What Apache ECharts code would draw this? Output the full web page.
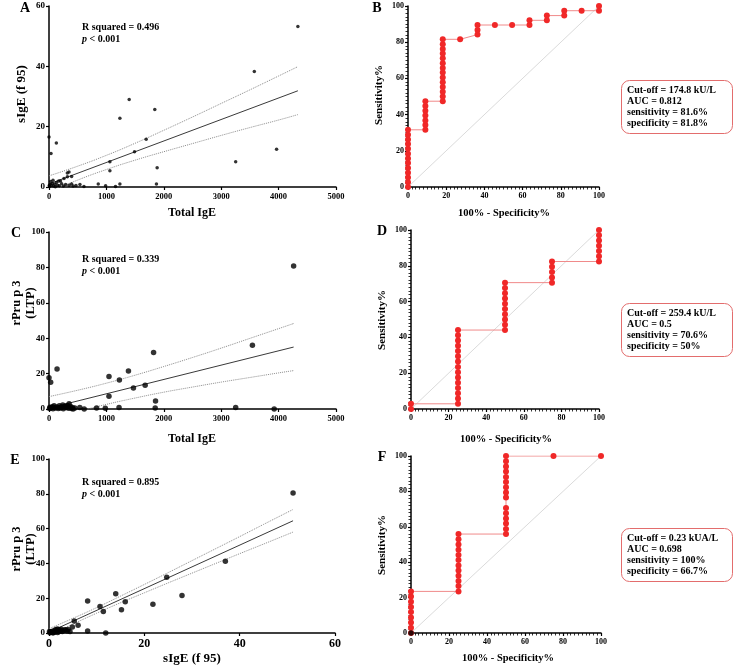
<!DOCTYPE html>
<html><head><meta charset="utf-8">
<script src="https://cdn.jsdelivr.net/npm/echarts@6/dist/echarts.min.js"></script>
<style>html,body{margin:0;padding:0;background:#fff}#c{width:734px;height:670px}</style>
</head><body><div id="c"></div>
<script>
// ---------- Panel A: Total IgE vs sIgE (f 95) ----------
const scatterA_x = [4336,3577,1397,1843,1235,1693,1490,3965,3252,1061,1061,1884,1872,0,128,35,348,319,394,320,261,200,170,539,609,858,986,1159,1235,394,350,10,20,40,60,80,100,130,150,180,220,250,290,420,470,30,70,110,5];
const scatterA_y = [53.2,38.3,29.0,25.7,22.8,15.8,11.7,12.5,8.4,8.4,5.4,6.4,1.0,16.6,14.6,11.1,5.0,4.6,3.5,3.4,2.8,2.0,2.0,0.8,0.2,1.0,0.4,0.2,1.0,1.0,0.6,0.2,0.8,0.5,1.2,0.3,0.9,1.5,0.6,0.4,1.1,0.3,0.8,0.3,0.5,1.8,2.2,0.1,0.5];
const fitA_x = [0,4336];
const fitA_y = [1.0,31.9];
const bandA_x = [0,500,1000,1500,2000,2500,3000,3500,4000,4336];
const bandA_up = [3.7,6.9,10.5,14.5,18.8,23.2,27.7,32.2,36.8,39.9];
const bandA_lo = [-1.7,2.3,5.8,8.9,11.7,14.4,17.1,19.7,22.2,24.0];

// ---------- Panel C: Total IgE vs rPru p 3 ----------
const scatterC_x = [4262,3544,1822,140,0,29,1045,1384,1226,1675,1471,1045,1856,1850,1220,3252,3923,829,981,537,613,350,370,274,187,88,29,408,420,10,50,70,110,130,160,200,230,250,300,320,340,390,450,60,15,240,300,180];
const scatterC_y = [80.8,36.0,31.9,22.6,17.7,15.1,18.3,21.5,16.4,13.4,11.9,7.2,4.5,0.6,0.9,0.9,0,0.6,0.4,0.9,0,3.0,1.5,1.5,0.9,1.9,0.6,0.9,0,0.3,0.8,0.2,0.5,1.2,0.3,0.6,1.0,0.2,0.8,2.0,0.4,0.3,0.5,1.3,1.0,2.2,1.3,1.8];
const fitC_x = [0,4262];
const fitC_y = [0.5,35.0];
const bandC_x = [0,500,1000,1500,2000,2500,3000,3500,4000,4262];
const bandC_up = [7.0,10.6,14.6,19.1,24.0,29.1,34.4,39.9,45.4,48.3];
const bandC_lo = [-6.0,-1.5,2.6,6.2,9.5,12.4,15.2,17.8,20.4,21.7];

// ---------- Panel E: sIgE (f 95) vs rPru p 3 ----------
const scatterE_x = [51.2,37.0,27.9,24.7,21.8,14.0,16.0,15.2,11.4,10.7,8.1,8.1,11.9,5.3,6.1,4.9,4.4,3.2,2.5,1.8,1.5,1.2,0.8,0.4,1.8,2.2,2.8,3.5,0.2,1.0,0.6,1.4,2.0,0.3,1.6,2.6,0.9,0.1,4.0,3.8];
const scatterE_y = [80.4,41.3,21.5,32.1,16.5,22.6,17.9,13.4,12.3,15.2,18.4,1.2,0,6.9,4.4,3.5,0.8,1.7,1.2,2.3,1.0,0.5,0.2,0.6,0.3,1.8,0.9,1.9,0.1,1.3,0.9,2.0,0.7,0.4,1.6,2.2,0.2,0.8,2.0,1.1];
const fitE_x = [0,51.2];
const fitE_y = [0.5,64.5];
const bandE_x = [0,5,10,15,20,25,30,35,40,45,51.2];
const bandE_up = [2.5,8.4,14.6,21.2,27.9,34.7,41.6,48.5,55.4,62.4,71.0];
const bandE_lo = [-1.5,5.1,11.4,17.4,23.1,28.8,34.4,40.0,45.6,51.1,58.0];

// ---------- ROC curves ----------
const rocB_x = [0,0,0,0,0,0,0,0,0,0,0,0,0, 9.1,9.1,9.1,9.1,9.1,9.1,9.1, 18.2,18.2,18.2,18.2,18.2,18.2,18.2,18.2,18.2,18.2,18.2,18.2,18.2,18.2, 27.3, 36.4,36.4,36.4, 45.5, 54.5, 63.6,63.6, 72.7,72.7, 81.8,81.8, 90.9, 100,100];
const rocB_y = [0,2.6,5.3,7.9,10.5,13.2,15.8,18.4,21.1,23.7,26.3,28.9,31.6, 31.6,34.2,36.8,39.5,42.1,44.7,47.4, 47.4,50.0,52.6,55.3,57.9,60.5,63.2,65.8,68.4,71.1,73.7,76.3,78.9,81.6, 81.6, 84.2,86.8,89.5, 89.5, 89.5, 89.5,92.1, 92.1,94.7, 94.7,97.4, 97.4, 97.4,100];
const rocD_x = [0,0, 25,25,25,25,25,25,25,25,25,25,25,25,25,25,25, 50,50,50,50,50,50,50,50,50,50, 75,75,75,75,75, 100,100,100,100,100,100,100];
const rocD_y = [0,2.9, 2.9,5.9,8.8,11.8,14.7,17.6,20.6,23.5,26.5,29.4,32.4,35.3,38.2,41.2,44.1, 44.1,47.1,50.0,52.9,55.9,58.8,61.8,64.7,67.6,70.6, 70.6,73.5,76.5,79.4,82.4, 82.4,85.3,88.2,91.2,94.1,97.1,100];
const rocF_x = [0,0,0,0,0,0,0,0,0, 25,25,25,25,25,25,25,25,25,25,25,25, 50,50,50,50,50,50,50,50,50,50,50,50,50,50,50, 75, 100];
const rocF_y = [0,2.9,5.9,8.8,11.8,14.7,17.6,20.6,23.5, 23.5,26.5,29.4,32.4,35.3,38.2,41.2,44.1,47.1,50.0,52.9,55.9, 55.9,58.8,61.8,64.7,67.6,70.6,76.5,79.4,82.4,85.3,88.2,91.2,94.1,97.1,100, 100, 100];

const statsB = ['Cut-off = 174.8 kU/L','AUC = 0.812','sensitivity = 81.6%','specificity = 81.8%'];
const statsD = ['Cut-off = 259.4 kU/L','AUC = 0.5','sensitivity = 70.6%','specificity = 50%'];
const statsF = ['Cut-off = 0.23 kUA/L','AUC = 0.698','sensitivity = 100%','specificity = 66.7%'];
const rsqA = 'R squared = 0.496', rsqC = 'R squared = 0.339', rsqE = 'R squared = 0.895';

// ---------- build ----------
const SERIF = '"Liberation Serif","Times New Roman",serif';
const zip = (a,b) => a.map((v,i)=>[v,b[i]]);

const grids = [
  {left:49, top:6, width:287, height:181},   // A
  {left:408, top:6, width:191, height:181},  // B
  {left:49, top:232, width:287, height:177}, // C
  {left:411, top:230, width:188, height:179},// D
  {left:49, top:459, width:286, height:174}, // E
  {left:411, top:456, width:190, height:177} // F
];
const axisLine = {show:true, onZero:false, lineStyle:{color:'#000', width:1.5}};
const lbl = (sz)=>({color:'#000', fontFamily:SERIF, fontWeight:'bold', fontSize:sz, margin:4, formatter:(v)=>String(v)});
function valAxis(gi, min, max, interval, sz, roc){
  const a = {type:'value', gridIndex:gi, min, max, interval, axisLine,
    axisTick:{show:true, length:3, lineStyle:{color:'#000', width:1.2}},
    axisLabel:lbl(sz), splitLine:{show:false}};
  if (roc) a.minorTick = {show:true, splitNumber:10, length:2.5, lineStyle:{color:'#000', width:0.8}};
  return a;
}
const xAxes = [
  valAxis(0,0,5000,1000,8.5),
  valAxis(1,0,100,20,8),
  valAxis(2,0,5000,1000,8.5),
  valAxis(3,0,100,20,8,true),
  valAxis(4,0,60,20,12),
  valAxis(5,0,100,20,8,true)
];
xAxes[1].minorTick = {show:true, splitNumber:10, length:2.5, lineStyle:{color:'#000', width:0.8}};
yAxes_roc_minor = true;
xAxes.forEach(a=>{a.axisLabel.margin = 5;});
const yAxes = [
  valAxis(0,0,60,20,9),
  valAxis(1,0,100,20,8,true),
  valAxis(2,0,100,20,9),
  valAxis(3,0,100,20,8,true),
  valAxis(4,0,100,20,9),
  valAxis(5,0,100,20,8,true)
];

const series = [];
function scatterPanel(i, xs, ys, fx, fy, bx, bu, bl, size){
  series.push({type:'line', xAxisIndex:i, yAxisIndex:i, data:zip(bx,bu), showSymbol:false, symbol:'none', smooth:true,
    lineStyle:{color:'#8c8c8c', width:1, type:'dotted'}, z:2, silent:true});
  series.push({type:'line', xAxisIndex:i, yAxisIndex:i, data:zip(bx,bl), showSymbol:false, symbol:'none', smooth:true,
    lineStyle:{color:'#8c8c8c', width:1, type:'dotted'}, z:2, silent:true});
  series.push({type:'line', xAxisIndex:i, yAxisIndex:i, data:zip(fx,fy), showSymbol:false, symbol:'none',
    lineStyle:{color:'#222', width:0.9}, z:3, silent:true});
  series.push({type:'scatter', xAxisIndex:i, yAxisIndex:i, data:zip(xs,ys), symbolSize:size,
    itemStyle:{color:'#000'}, z:4});
}
scatterPanel(0, scatterA_x, scatterA_y, fitA_x, fitA_y, bandA_x, bandA_up, bandA_lo, 3.5);
scatterPanel(2, scatterC_x, scatterC_y, fitC_x, fitC_y, bandC_x, bandC_up, bandC_lo, 5.5);
scatterPanel(4, scatterE_x, scatterE_y, fitE_x, fitE_y, bandE_x, bandE_up, bandE_lo, 5.5);

function rocPanel(i, xs, ys){
  series.push({type:'line', xAxisIndex:i, yAxisIndex:i, data:[[0,0],[100,100]], showSymbol:false, symbol:'none',
    lineStyle:{color:'#d0d0d0', width:0.8}, z:2, silent:true});
  series.push({type:'line', xAxisIndex:i, yAxisIndex:i, data:zip(xs,ys), symbol:'circle', symbolSize:6, showAllSymbol:true,
    itemStyle:{color:'#f02828'}, lineStyle:{color:'#f08a8a', width:1}, z:4});
}
rocPanel(1, rocB_x, rocB_y);
rocPanel(3, rocD_x, rocD_y);
rocPanel(5, rocF_x, rocF_y);
series.push({type:'scatter', xAxisIndex:5, yAxisIndex:5, data:[[rocF_x[0], rocF_y[0]]], symbolSize:5.5, itemStyle:{color:'#000'}, z:6});

// ---------- texts ----------
const g = [];
function txt(x,y,text,size,opts){
  const o = Object.assign({align:'center', vAlign:'middle', rot:0}, opts||{});
  g.push({type:'text', x, y, rotation:o.rot, z:10, silent:true,
    style:{text, fill:'#000', font:'bold '+size+'px '+SERIF,
      align:o.align, textAlign:o.align, verticalAlign:o.vAlign, textVerticalAlign:o.vAlign,
      lineHeight:o.lh || Math.round(size*1.15), rich:o.rich}});
}
// panel letters
txt(25,8,'A',14); txt(377,8,'B',14); txt(16,233,'C',14); txt(382,231,'D',14); txt(15,460,'E',14); txt(382,457,'F',14);
// axis titles
txt(22,94,'sIgE (f 95)',13,{rot:Math.PI/2});
txt(192,213,'Total IgE',12);
txt(379,95,'Sensitivity%',11,{rot:Math.PI/2});
txt(504,213,'100% - Specificity%',10.5);
txt(24,303,'rPru p 3\n(LTP)',12.5,{rot:Math.PI/2, lh:14});
txt(192,439,'Total IgE',12);
txt(382,320,'Sensitivity%',11,{rot:Math.PI/2});
txt(506,439,'100% - Specificity%',10.5);
txt(24,549,'rPru p 3\n(LTP)',12.5,{rot:Math.PI/2, lh:14});
txt(192,659,'sIgE (f 95)',13);
txt(382,545,'Sensitivity%',11,{rot:Math.PI/2});
txt(508,658,'100% - Specificity%',10.5);
// regression annotations
const richP = {i:{fontStyle:'italic', fontWeight:'bold', fontFamily:SERIF, fontSize:10, fill:'#000'},
               n:{fontWeight:'bold', fontFamily:SERIF, fontSize:10, fill:'#000'}};
function annot(y, r){
  txt(82,y,r,10,{align:'left'});
  txt(82,y+12,'{i|p}{n| < 0.001}',10,{align:'left', rich:richP});
}
annot(27,rsqA); annot(259,rsqC); annot(482,rsqE);
// stats boxes
function box(y, lines){
  g.push({type:'rect', shape:{x:621.5, y:y+0.5, width:111, height:53, r:8}, z:9, silent:true,
    style:{fill:'#fff', stroke:'#e36d6d', lineWidth:1}});
  txt(627, y+4.5, lines.join('\n'), 10, {align:'left', vAlign:'top', lh:11});
}
box(80, statsB); box(303, statsD); box(528, statsF);

const chart = echarts.init(document.getElementById('c'), null, {renderer:'canvas'});
chart.setOption({animation:false, backgroundColor:'#fff', grid:grids.map(o=>Object.assign({containLabel:false}, o)),
  xAxis:xAxes, yAxis:yAxes, series, graphic:{elements:g}});
</script></body></html>
